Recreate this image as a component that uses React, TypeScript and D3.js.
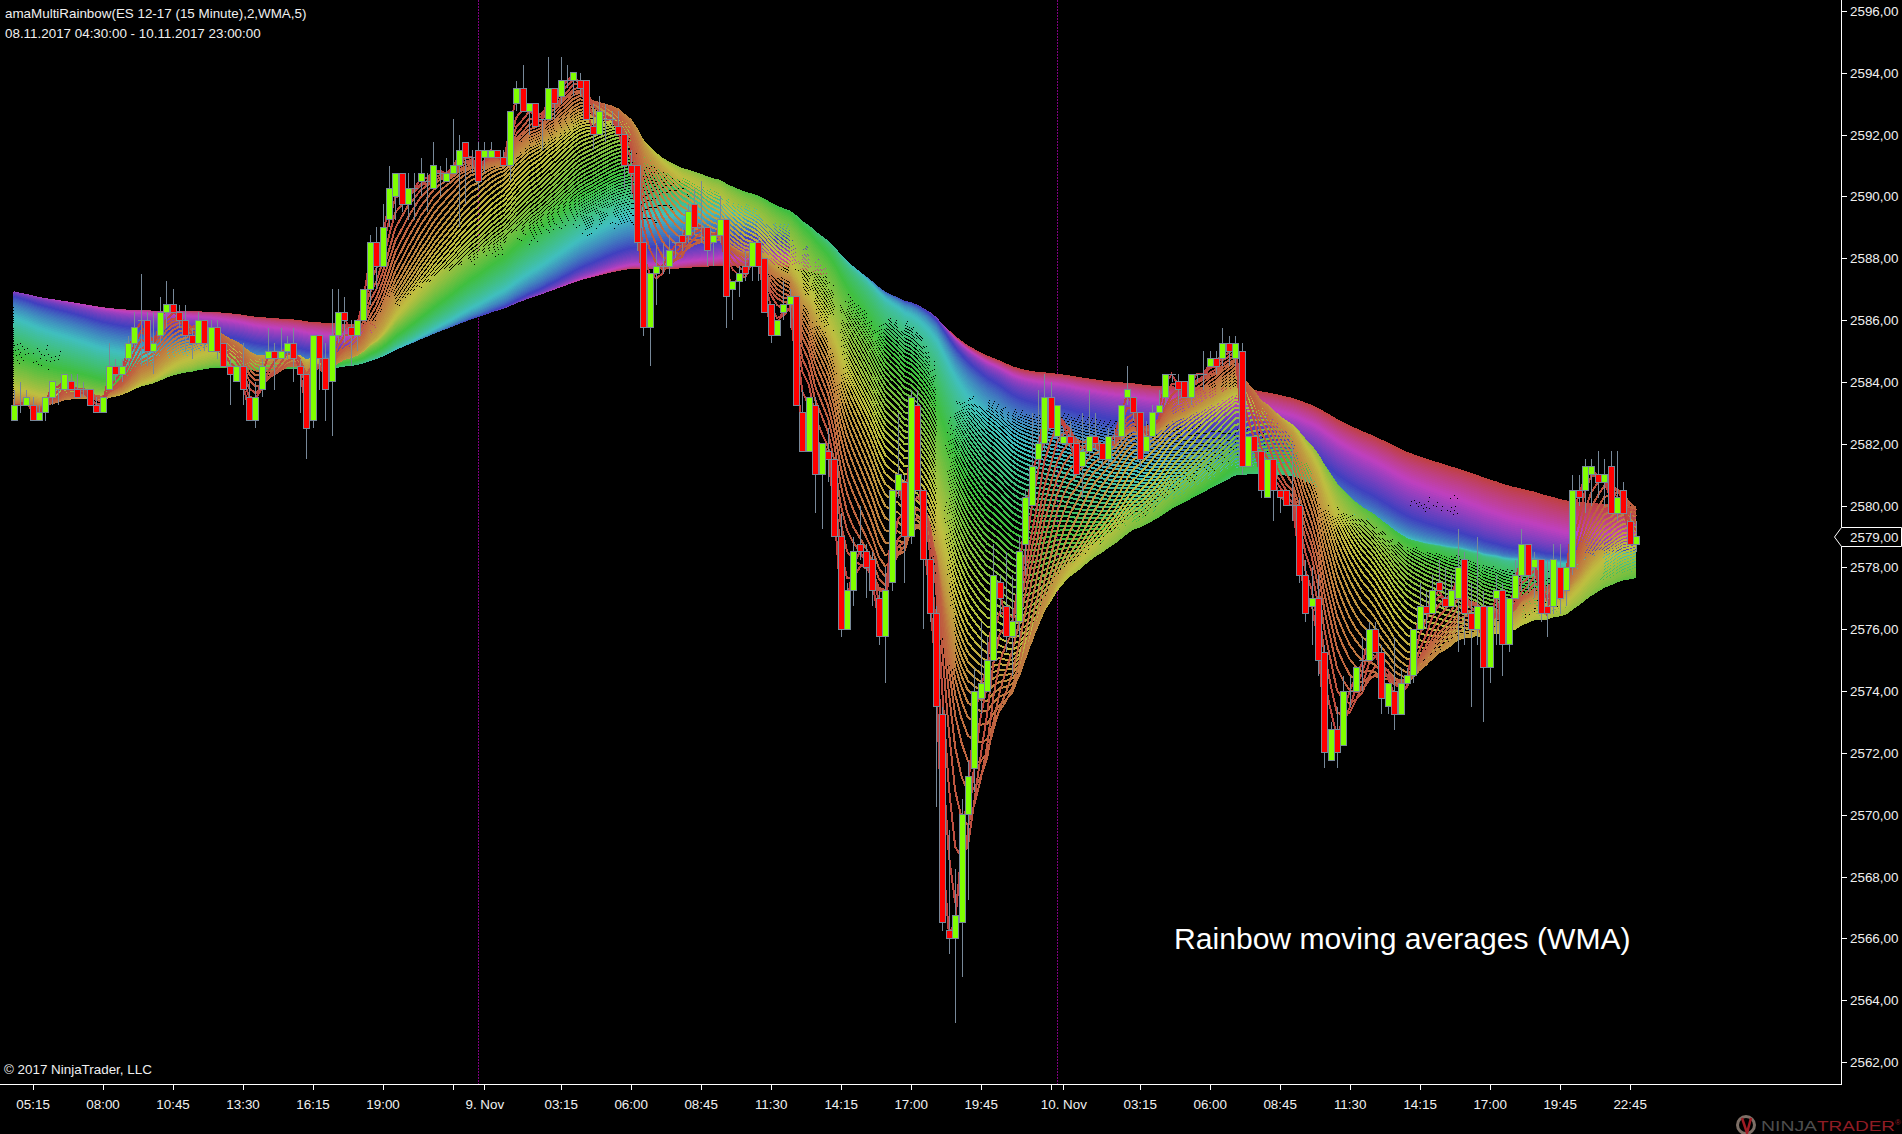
import * as d3 from "d3";

// 15 minute ES candles, quarter point steps
const opens = [
  2582.75,2583.25,2583.25,2583.25,2582.75,2583,2583.5,2583.75,2583.75,2584,
  2583.75,2583.75,2583.75,2583.25,2583,2583.75,2584.5,2584.25,2584.75,2585.25,
  2586,2586,2585,2585.5,2586.25,2586.5,2586.25,2586,2585.5,2585.25,
  2586,2585,2585.75,2585.25,2584.5,2584,2584.5,2583.5,2582.75,2583.75,
  2584.75,2585,2584.75,2585,2585.25,2584.5,2584.25,2582.75,2585.5,2584.75,
  2584,2585.5,2586.25,2585.75,2585.5,2586,2587,2588.5,2587.75,2589.25,
  2590,2590.75,2589.75,2590.25,2590.5,2590.5,2590.25,2590.75,2590.5,2590.75,
  2591,2591.75,2591.25,2591.5,2591.25,2591.25,2591.5,2591.25,2591,2593,
  2593.5,2592.75,2593,2592.5,2592.5,2593.5,2593.25,2593.75,2593.75,2593.75,
  2593.75,2592.25,2592,2592.5,2592.5,2592.25,2592,2591,2591,2588.5,
  2585.75,2587.5,2587.75,2587.75,2588.5,2588.75,2588.75,2589.75,2589,2589,
  2588.5,2588.75,2589.25,2587,2587.25,2587.75,2587.75,2588.5,2588,2586.5,
  2585.5,2586.25,2586.5,2586.75,2583,2581.75,2583.25,2581,2581.75,2581.5,
  2579,2576,2577.25,2578.75,2578.5,2578.25,2577,2575.75,2577.5,2580.5,
  2580.75,2579,2583.25,2580.5,2578.25,2576.5,2573.25,2566.25,2566,2566.5,
  2570,2571.5,2573.75,2574,2575,2577.5,2576.75,2575.75,2576.25,2578.75,
  2580,2581.5,2582,2583.5,2582.25,2582,2582.25,2582,2581.25,2581.75,
  2582.25,2582,2581.5,2582.25,2582.25,2583.5,2583.5,2583,2581.75,2582.25,
  2583,2583.5,2584.25,2584,2584,2583.5,2584.25,2584.25,2584.5,2584.75,
  2584.75,2585.25,2584.75,2585,2581.25,2582.25,2581.75,2580.25,2581.5,2580.5,
  2580.5,2580,2580,2577.75,2576.75,2577,2575.25,2571.75,2572.75,2572.25,
  2574,2574,2575,2575,2576,2575.25,2573.5,2574,2573.25,2574.25,
  2574.5,2576,2576.75,2576.5,2577.5,2577,2576.75,2577,2578.25,2576.5,
  2576,2576.75,2574.75,2577,2577.25,2575.5,2577,2577.75,2578.75,2578,
  2578.25,2576.75,2576.75,2578,2577.25,2578,2580.5,2580.5,2581,2581,
  2580.75,2581.25,2579.75,2580.5,2579.5,2578.75,
];
const closes = [
  2583.25,2583.25,2583.5,2582.75,2583,2583.5,2584,2583.75,2584.25,2583.75,
  2583.5,2583.75,2583.25,2583,2583.5,2584.5,2584.25,2584.5,2585.25,2585.75,
  2586,2585,2585.25,2586.25,2586.5,2586.25,2586,2585.5,2585.25,2586,
  2585.25,2585.75,2585,2584.5,2584.25,2584.5,2583.75,2582.75,2583.5,2584.5,
  2585,2584.75,2585,2585.25,2584.75,2584.25,2582.5,2585.5,2584.75,2583.75,
  2585.5,2586.25,2586,2585.5,2586,2587,2588.5,2587.75,2589,2590.25,
  2590.75,2589.75,2590.25,2590.25,2590.75,2590.5,2591,2590.75,2590.75,2591,
  2591.5,2591.25,2591.25,2590.5,2591.5,2591.5,2591.25,2591,2592.75,2593.5,
  2592.75,2593,2592.25,2592.5,2593.5,2593,2593.75,2593.75,2594,2593.5,
  2592.5,2592,2592.75,2592.5,2592.5,2592,2591,2590.75,2588.5,2585.75,
  2587.5,2587.75,2587.75,2588.25,2588.5,2588.5,2589.5,2589,2589,2588.25,
  2588.75,2589.25,2586.75,2587.25,2587.5,2587.5,2588.5,2587.75,2586.25,2585.5,
  2586,2586.5,2586.75,2583.25,2581.75,2583.5,2581,2582,2581.5,2579,
  2576,2577.25,2578.5,2578.5,2578,2577.25,2575.75,2577.25,2580.5,2581,
  2579,2583.5,2580.5,2578.25,2576.5,2573.5,2566.5,2566,2566.75,2570,
  2571.25,2574,2574.25,2575,2577.75,2577,2575.75,2576.25,2578.5,2580.25,
  2581.25,2582,2583.5,2582.5,2583.25,2582.25,2582,2581,2581.75,2582.25,
  2582,2581.5,2582.25,2582.25,2583.25,2583.75,2583,2581.5,2582.25,2583,
  2583.25,2584.25,2584.25,2583.75,2583.5,2584.25,2584.25,2584.25,2584.75,2584.5,
  2585.25,2585,2585.25,2581.25,2582.25,2581.75,2580.5,2581.5,2580.5,2580.25,
  2580,2580,2577.75,2576.5,2577,2575,2572,2572.75,2572,2574,
  2574,2574.75,2575,2576,2575.25,2573.75,2574.25,2573.25,2574.25,2574.5,
  2576,2576.75,2576.5,2577.25,2577.25,2576.75,2577.25,2578,2576.5,2576,
  2576.75,2574.75,2576.75,2577.25,2575.5,2577,2577.75,2578.75,2577.75,2578.25,
  2576.5,2576.5,2578.25,2577,2578,2580.5,2580.25,2581.25,2581.25,2580.75,
  2581,2579.75,2580.25,2579.75,2578.75,2579,
];
const highs = [
  2583.75,2584,2583.75,2583.5,2583.25,2583.5,2584,2583.75,2584.25,2584.25,
  2584.25,2584,2583.75,2583.5,2583.5,2585.25,2584.75,2584.75,2585.5,2586.25,
  2587.5,2586.25,2586.25,2586.75,2587.25,2587,2586.5,2586.5,2585.75,2586.25,
  2586,2586,2586,2585.25,2584.75,2584.5,2585.25,2584,2584,2584.75,
  2585.75,2585.25,2585.75,2585.5,2585.75,2584.75,2584.25,2585.5,2585.5,2585.25,
  2587,2587,2586.75,2586,2586,2587,2588.75,2589,2589.75,2591,
  2590.75,2590.75,2590.75,2590.75,2591.25,2590.75,2591.75,2591,2591.25,2592.5,
  2592,2591.75,2591.5,2591.75,2591.75,2591.75,2591.5,2591.5,2592.75,2593.75,
  2594.25,2593,2593,2592.5,2594.5,2593.5,2594.5,2594.25,2594,2594,
  2593.75,2593,2593.25,2593,2592.75,2592.75,2592,2591.5,2591,2588.5,
  2587.5,2588.5,2588.5,2588.75,2588.5,2589,2589.75,2590.25,2590.5,2589,
  2588.75,2590,2589.25,2587.25,2587.75,2588.25,2588.5,2588.75,2588,2586.5,
  2586,2587.25,2587,2586.75,2583.75,2583.5,2583.5,2582,2582.5,2581.5,
  2579.75,2577.5,2579,2580,2578.75,2578.5,2577.25,2578,2580.5,2583,
  2581,2583.75,2583.75,2580.5,2578.25,2576.75,2573.5,2569.5,2568.25,2570.5,
  2571.75,2574.75,2576.25,2575.75,2578.75,2577.75,2578.5,2577.75,2579,2580.5,
  2583,2583.75,2584.25,2584,2583.25,2582.5,2582.75,2582,2583,2583.75,
  2583,2582,2582.5,2582.5,2583.25,2584.5,2583.5,2583,2582.75,2583.25,
  2583.75,2584.25,2584.25,2584.25,2584,2584.25,2584.25,2585,2585,2585,
  2585.75,2585.5,2585.5,2585.25,2582.25,2582.25,2581.75,2581.5,2581.5,2580.5,
  2580.5,2582,2580.25,2578.25,2578,2577.75,2575.5,2573,2573.5,2574.5,
  2574.5,2574.75,2575.75,2576.25,2576.25,2575.5,2574.25,2575.75,2574.75,2574.75,
  2576,2577.5,2577.25,2577.75,2578.25,2578,2577.75,2579.25,2578.5,2577.5,
  2579,2577.25,2576.75,2577.75,2577.5,2577,2578.25,2579.25,2578.75,2578.5,
  2578.25,2578.25,2578.75,2578.75,2578,2581,2581,2581.5,2581.5,2581.75,
  2581.5,2581.75,2581.75,2580.75,2579.75,2579.5,
];
const lows = [
  2582.75,2583,2583.25,2582.75,2582.75,2582.75,2583.25,2583.25,2583.75,2583.75,
  2583.5,2583.5,2583.25,2583,2583,2583.75,2584,2584,2584.5,2585,
  2584.5,2584.5,2584.25,2585.25,2585.75,2586.25,2585.75,2585,2584.75,2585.25,
  2585,2585,2584.75,2584.5,2583.25,2584,2583.25,2582.75,2582.5,2583.5,
  2584.75,2583.75,2584.75,2584.75,2584,2583,2581.5,2582.5,2583.75,2582.75,
  2582.25,2585.25,2585.25,2584.5,2585,2586,2586.5,2587,2587.75,2589,
  2589.25,2589.5,2589.25,2589.25,2590,2589.5,2590.25,2590,2590.5,2590.75,
  2589,2589.75,2590.75,2590.25,2590.75,2591.25,2591.25,2591,2590.5,2592.75,
  2592.75,2592,2592.25,2591.5,2592.5,2592.5,2593,2593.5,2593.25,2593.25,
  2592.5,2591.5,2592,2591.75,2592.25,2592,2590.25,2590,2588.25,2585.5,
  2584.5,2586.5,2587.5,2587.5,2588,2588.25,2588.5,2588.75,2588.5,2587.75,
  2587.75,2588.5,2585.75,2586,2586.75,2587.25,2587.25,2587.25,2586.25,2585.25,
  2585.5,2586,2585.75,2583.25,2581.75,2581.75,2579.75,2579.25,2580.75,2579,
  2575.75,2576,2576.75,2578.25,2577,2576.75,2575.5,2574.25,2577.25,2580.25,
  2577.5,2578.75,2580.5,2576,2576.25,2570.25,2566.25,2565.5,2563.25,2564.75,
  2567.25,2570.75,2573.25,2574,2575,2576.5,2575.25,2574.5,2575.75,2577.75,
  2580,2581.25,2581.75,2582.5,2582,2582,2582,2581,2580.25,2581.5,
  2581.75,2581.25,2581.25,2582,2582,2583.25,2582.75,2581.25,2581.75,2582.25,
  2583,2583.25,2584,2583.25,2583.5,2583.25,2584,2583.75,2584.5,2584.25,
  2584.5,2584.5,2584.5,2581,2581.25,2581.75,2580.25,2580.25,2579.5,2579.75,
  2580,2579.5,2577.5,2576.25,2575.5,2574.5,2571.5,2571.75,2571.5,2572.25,
  2573.5,2574,2574,2575,2575.25,2573.25,2573.25,2572.75,2573.25,2574.25,
  2574.25,2576,2576,2576.5,2577.25,2576.75,2576.75,2575.25,2575.5,2573.5,
  2575.5,2573,2574.25,2575.5,2574.5,2575.25,2577,2577.25,2577.25,2577,
  2576.25,2575.75,2576.5,2576.5,2576.75,2577.75,2580,2579.75,2580,2580.25,
  2580,2579.75,2579.5,2579.75,2578.75,2578.5,
];

// Bars before the first candle are not on the picture. These levels are
// estimates (oldest first, ten bars each) so the ribbon opens fanned out as it does.
const priorLevels = [
  2581,2581,2581,2581,2581,2584,2585,2587,2588,2589,
  2590,2590.5,2590.5,2590,2588.75,2587.5,2586.25,2585,2584,2583.25,
];

const priceTicks = d3.range(2562, 2597, 2);
const tickBars = [3,14,25,36,47,58,69,74,86,97,108,119,130,141,152,163,165,177,188,199,210,221,232,243,254];
const tickLabels = ["05:15","08:00","10:45","13:30","16:15","19:00","","9. Nov","03:15","06:00","08:45","11:30","14:15","17:00","19:45","","10. Nov","03:15","06:00","08:45","11:30","14:15","17:00","19:45","22:45"];
const sessionBars = [73, 164];
const lastPrice = 2579;

// the ribbon: one WMA of the closes per period, fast to slow
const periods = d3.range(2, 202, 2);

const WIDTH = 1902;
const HEIGHT = 1134;
const AXIS_X = 1841;
const AXIS_Y = 1084;
const FONT = "'Liberation Sans', Arial, sans-serif";

const x = d3.scaleLinear().domain([0, closes.length - 1]).range([13.5, 1636]);
const y = d3.scaleLinear().domain([2562, 2596]).range([1062, 11]);

const history = priorLevels.flatMap((level) => d3.range(10).map(() => level)).concat(closes);
const offset = history.length - closes.length;

function wma(period: number) {
  return closes.map((_, i) => {
    let sum = 0;
    let weight = 0;
    for (let w = 1; w <= period; w++) {
      sum += w * history[offset + i - period + w];
      weight += w;
    }
    return sum / weight;
  });
}

const ribbonLine = d3.line<number>().x((_, i) => x(i)).y((v) => y(v));
const hue = d3.scaleLinear().domain([0, periods.length - 1]).range([0, 360]);
const fmt = (v: number) => v.toFixed(2).replace(".", ",");

export default function App() {
  const priceY = Math.round(y(lastPrice));
  return (
    <svg
      width={WIDTH}
      height={HEIGHT}
      style={{ position: "absolute", left: 0, top: 0, display: "block", background: "#000" }}
      fontFamily={FONT}
      fontSize={13.4}
      fill="#f0f0f0"
    >
      {sessionBars.map((b) => (
        <line key={b} x1={Math.round(x(b)) + 0.5} x2={Math.round(x(b)) + 0.5} y1={0} y2={AXIS_Y} stroke="#800080" strokeDasharray="2,1" />
      ))}

      {/* slow lines first so the fast ones sit on top */}
      {periods.map((p, k) => ({ p, k })).reverse().map(({ p, k }) => (
        <path
          key={p}
          d={ribbonLine(wma(p)) || ""}
          fill="none"
          stroke={d3.hsl(hue(k), 0.5, 0.5).formatHex()}
          strokeWidth={2}
          shapeRendering="crispEdges"
        />
      ))}

      {closes.map((c, i) => {
        const cx = Math.round(x(i));
        const top = y(Math.max(opens[i], c));
        const bottom = y(Math.min(opens[i], c));
        return (
          <g key={i} shapeRendering="crispEdges">
            <line x1={cx + 0.5} x2={cx + 0.5} y1={y(highs[i])} y2={y(lows[i])} stroke="#778899" />
            {c === opens[i] ? (
              <line x1={cx - 3} x2={cx + 4} y1={top} y2={top} stroke="#778899" />
            ) : (
              <rect x={cx - 2.5} y={top} width={6} height={bottom - top} fill={c > opens[i] ? "#7fff00" : "#ff0000"} stroke="#778899" />
            )}
          </g>
        );
      })}

      <text x={5} y={18}>amaMultiRainbow(ES 12-17 (15 Minute),2,WMA,5)</text>
      <text x={5} y={38}>08.11.2017 04:30:00 - 10.11.2017 23:00:00</text>
      <text x={4} y={1074}>© 2017 NinjaTrader, LLC</text>
      <text x={1174} y={949} fontSize={30.1} fill="#fff">Rainbow moving averages (WMA)</text>

      <line x1={AXIS_X + 0.5} x2={AXIS_X + 0.5} y1={0} y2={AXIS_Y + 1} stroke="#fff" />
      <line x1={0} x2={AXIS_X + 1} y1={AXIS_Y + 0.5} y2={AXIS_Y + 0.5} stroke="#fff" />

      {priceTicks.map((p) => (
        <g key={p}>
          <line x1={AXIS_X + 1} x2={AXIS_X + 6} y1={Math.round(y(p)) + 0.5} y2={Math.round(y(p)) + 0.5} stroke="#fff" />
          <text x={1850} y={Math.round(y(p)) + 5}>{fmt(p)}</text>
        </g>
      ))}

      {tickBars.map((b, i) => (
        <g key={b}>
          <line x1={Math.round(x(b)) + 0.5} x2={Math.round(x(b)) + 0.5} y1={AXIS_Y + 1} y2={AXIS_Y + 6} stroke="#fff" />
          <text x={x(b) + 0.5} y={1109} textAnchor="middle">{tickLabels[i]}</text>
        </g>
      ))}

      <path
        d={`M1901.5,${priceY - 9.5}H${AXIS_X + 0.5}L1834.5,${priceY}L${AXIS_X + 0.5},${priceY + 9.5}H1901.5Z`}
        fill="#000"
        stroke="#fff"
      />
      <text x={1850} y={priceY + 5}>{fmt(lastPrice)}</text>

      <g>
        <circle cx={1746} cy={1125} r={8.5} fill="none" stroke="#7d6f66" strokeWidth={3} />
        <path d="M1742,1118L1747,1133L1751,1118" fill="none" stroke="#a01c24" strokeWidth={2.5} />
        <text x={1761} y={1131} fontSize={14} fill="#4d4d4d" textLength={56} lengthAdjust="spacingAndGlyphs">NINJA</text>
        <text x={1817} y={1131} fontSize={14} fill="#8f1c24" textLength={78} lengthAdjust="spacingAndGlyphs">TRADER</text>
        <text x={1895} y={1125} fontSize={8} fill="#8f1c24">®</text>
      </g>
    </svg>
  );
}
